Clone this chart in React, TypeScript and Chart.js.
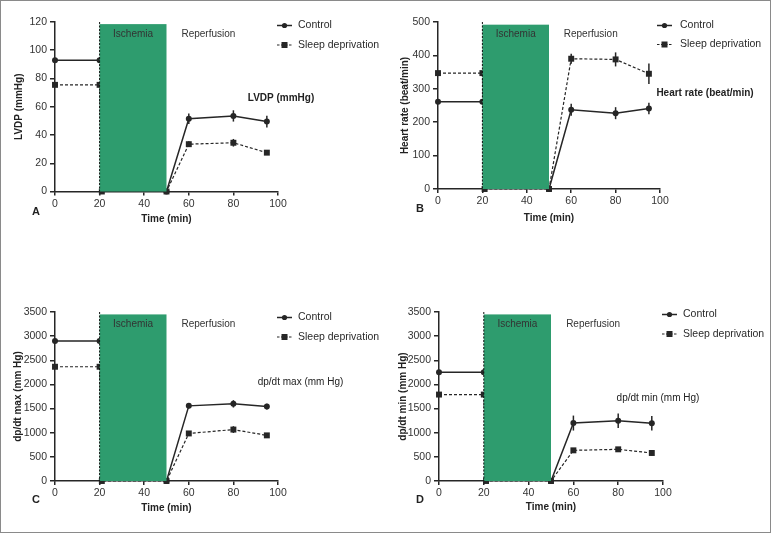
import React, { useEffect, useRef } from 'react';
import { Chart, registerables } from 'chart.js';

Chart.register(...registerables);

// ---------------- DATA ----------------
const timeControl = [0, 20, 50, 60, 80, 95];
const timeSleep = [0, 20, 21, 50, 60, 80, 95];

// Panel A: LVDP (mmHg)
const lvdpControl = [93, 93, 0, 51.5, 53.5, 49.5];
const lvdpControlErr = [0, 0, 0, 3.8, 4, 4.2];
const lvdpSleep = [75.5, 75.5, 0, 0, 33.5, 34.5, 27.5];
const lvdpSleepErr = [0, 0, 0, 0, 2, 2.7, 1];

// Panel B: Heart rate (beat/min)
const hrControl = [261, 261, 0, 237, 227, 241];
const hrControlErr = [0, 0, 0, 18, 18, 17];
const hrSleep = [347, 347, 0, 0, 390, 388, 345];
const hrSleepErr = [0, 0, 0, 0, 15, 21, 31];

// Panel C: dp/dt max (mm Hg)
const maxControl = [2900, 2900, 0, 1556, 1598, 1542];
const maxControlErr = [0, 0, 0, 50, 76, 60];
const maxSleep = [2366, 2366, 0, 0, 985, 1065, 945];
const maxSleepErr = [0, 0, 0, 0, 40, 70, 40];

// Panel D: dp/dt min (mm Hg)
const minControl = [2250, 2250, 0, 1200, 1250, 1195];
const minControlErr = [0, 0, 0, 155, 150, 150];
const minSleep = [1790, 1790, 0, 0, 635, 656, 580];
const minSleepErr = [0, 0, 0, 0, 30, 30, 50];

const xTickStep = 20;
const ischemiaStart = 20;
const ischemiaEnd = 50;
const reperfusionLabelAt = 68.8;
const legendLabels = ['Control', 'Sleep deprivation'];

// ---------------- STYLE ----------------
const FONT = "'Liberation Sans', Arial, sans-serif";
const FS = 10;
const INK = '#262626';
const GREEN = '#2e9c6e';
const W = 771;
const H = 533;

type Panel = {
  letter: string;
  yTitle: string;
  note: string;
  noteBold: boolean;
  yMax: number;
  yStep: number;
  greenTop: number;
  control: number[];
  controlErr: number[];
  sleep: number[];
  sleepErr: number[];
  L: number; R: number; T: number; B: number;
  yTitleX: number;
  xTitleY: number;
  noteX: number; noteY: number;
  letterX: number; letterY: number;
  legX1: number; legX2: number; legTextX: number; legY1: number; legY2: number;
};

const panels: Panel[] = [
  {
    letter: 'A', yTitle: 'LVDP (mmHg)', note: 'LVDP (mmHg)', noteBold: true,
    yMax: 120, yStep: 20, greenTop: 118.5,
    control: lvdpControl, controlErr: lvdpControlErr, sleep: lvdpSleep, sleepErr: lvdpSleepErr,
    L: 55, R: 278, T: 22, B: 191.5, yTitleX: 19, xTitleY: 219,
    noteX: 281, noteY: 98.5, letterX: 36, letterY: 211.5,
    legX1: 277, legX2: 292, legTextX: 298, legY1: 25.5, legY2: 45,
  },
  {
    letter: 'B', yTitle: 'Heart rate (beat/min)', note: 'Heart rate (beat/min)', noteBold: true,
    yMax: 500, yStep: 100, greenTop: 492,
    control: hrControl, controlErr: hrControlErr, sleep: hrSleep, sleepErr: hrSleepErr,
    L: 438, R: 660, T: 22, B: 189, yTitleX: 405, xTitleY: 218,
    noteX: 705, noteY: 93.5, letterX: 420, letterY: 209,
    legX1: 657, legX2: 672, legTextX: 680, legY1: 25.5, legY2: 44.5,
  },
  {
    letter: 'C', yTitle: 'dp/dt max (mm Hg)', note: 'dp/dt max (mm Hg)', noteBold: false,
    yMax: 3500, yStep: 500, greenTop: 3450,
    control: maxControl, controlErr: maxControlErr, sleep: maxSleep, sleepErr: maxSleepErr,
    L: 55, R: 278, T: 312, B: 481, yTitleX: 18, xTitleY: 508,
    noteX: 300.5, noteY: 382, letterX: 36, letterY: 499.5,
    legX1: 277, legX2: 292, legTextX: 298, legY1: 317.5, legY2: 337,
  },
  {
    letter: 'D', yTitle: 'dp/dt min (mm Hg)', note: 'dp/dt min (mm Hg)', noteBold: false,
    yMax: 3500, yStep: 500, greenTop: 3450,
    control: minControl, controlErr: minControlErr, sleep: minSleep, sleepErr: minSleepErr,
    L: 439, R: 663, T: 312, B: 481, yTitleX: 403, xTitleY: 507,
    noteX: 658, noteY: 398.5, letterX: 420, letterY: 499.5,
    legX1: 662, legX2: 677, legTextX: 683, legY1: 314.5, legY2: 334,
  },
];

function drawMarker(ctx: CanvasRenderingContext2D, x: number, y: number, kind: 'circle' | 'square', size: number) {
  ctx.fillStyle = INK;
  ctx.beginPath();
  if (kind === 'circle') {
    ctx.arc(x, y, size, 0, Math.PI * 2);
  } else {
    ctx.rect(x - size, y - size, size * 2, size * 2);
  }
  ctx.fill();
}

function makeDecor(p: Panel) {
  return {
    id: 'decor' + p.letter,
    afterDatasetsDraw(chart: any) {
      const { ctx, chartArea, scales } = chart;
      const xs = scales.x;
      const ys = scales.y;
      ctx.save();
      // error bars
      const errSets: [number[], number[], number[]][] = [
        [timeControl, p.control, p.controlErr],
        [timeSleep, p.sleep, p.sleepErr],
      ];
      ctx.strokeStyle = INK;
      ctx.lineWidth = 1.5;
      for (const [xsArr, vals, errs] of errSets) {
        for (let i = 0; i < vals.length; i++) {
          if (!errs[i]) continue;
          const px = xs.getPixelForValue(xsArr[i]);
          ctx.beginPath();
          ctx.moveTo(px, ys.getPixelForValue(vals[i] - errs[i]));
          ctx.lineTo(px, ys.getPixelForValue(vals[i] + errs[i]));
          ctx.stroke();
        }
      }
      // ischemia block
      const gx1 = xs.getPixelForValue(ischemiaStart);
      const gx2 = xs.getPixelForValue(ischemiaEnd);
      const gy1 = ys.getPixelForValue(p.greenTop);
      const gy2 = ys.getPixelForValue(0);
      ctx.fillStyle = GREEN;
      ctx.fillRect(gx1, gy1, gx2 - gx1, gy2 - gy1);
      // dotted line at ischemia start
      ctx.strokeStyle = '#111';
      ctx.lineWidth = 1;
      ctx.setLineDash([2, 1.5]);
      ctx.beginPath();
      ctx.moveTo(gx1, chartArea.top);
      ctx.lineTo(gx1, gy2);
      ctx.stroke();
      ctx.setLineDash([]);
      // labels
      ctx.font = `${FS}px ${FONT}`;
      ctx.fillStyle = '#333';
      ctx.textAlign = 'center';
      ctx.textBaseline = 'middle';
      ctx.fillText('Ischemia', (gx1 + gx2) / 2, chartArea.top + 12);
      ctx.fillText('Reperfusion', xs.getPixelForValue(reperfusionLabelAt), chartArea.top + 12);
      ctx.restore();
    },
    afterDraw(chart: any) {
      const { ctx } = chart;
      ctx.save();
      // legend
      const rows: [number, boolean, 'circle' | 'square'][] = [
        [p.legY1, false, 'circle'],
        [p.legY2, true, 'square'],
      ];
      rows.forEach(([y, dashed, kind], i) => {
        ctx.strokeStyle = INK;
        ctx.lineWidth = dashed ? 1.2 : 1.5;
        ctx.setLineDash(dashed ? [2.5, 1.5] : []);
        ctx.beginPath();
        ctx.moveTo(p.legX1, y);
        ctx.lineTo(p.legX2, y);
        ctx.stroke();
        ctx.setLineDash([]);
        drawMarker(ctx, (p.legX1 + p.legX2) / 2, y, kind, kind === 'circle' ? 2.6 : 3);
        ctx.font = `${FS + 0.5}px ${FONT}`;
        ctx.fillStyle = '#2a2a2a';
        ctx.textAlign = 'left';
        ctx.textBaseline = 'middle';
        ctx.fillText(legendLabels[i], p.legTextX, y);
      });
      // note
      ctx.font = `${p.noteBold ? 'bold ' : ''}${FS}px ${FONT}`;
      ctx.fillStyle = '#222';
      ctx.textAlign = 'center';
      ctx.textBaseline = 'middle';
      ctx.fillText(p.note, p.noteX, p.noteY);
      // panel letter
      ctx.font = `bold ${FS + 1}px ${FONT}`;
      ctx.fillText(p.letter, p.letterX, p.letterY);
      ctx.restore();
    },
  };
}

function PanelChart({ p }: { p: Panel }) {
  const ref = useRef<HTMLCanvasElement | null>(null);
  useEffect(() => {
    if (!ref.current) return;
    const titleOffset = (FS * 1.2) / 2;
    const padLeft = p.yTitleX - titleOffset;
    const yWidth = p.L - padLeft;
    const xHeight = p.xTitleY + titleOffset - p.B;
    const padBottom = H - (p.B + xHeight);
    const tickFont = { family: FONT, size: FS + 0.5 };
    const titleFont = { family: FONT, size: FS, weight: 'bold' as const };
    const chart = new Chart(ref.current, {
      type: 'line',
      data: {
        datasets: [
          {
            label: legendLabels[0],
            data: timeControl.map((x, i) => ({ x, y: p.control[i] })),
            borderColor: INK,
            backgroundColor: INK,
            borderWidth: 1.5,
            pointStyle: 'circle',
            pointRadius: 3,
            pointBorderWidth: 0,
            clip: false,
            tension: 0,
          },
          {
            label: legendLabels[1],
            data: timeSleep.map((x, i) => ({ x, y: p.sleep[i] })),
            borderColor: INK,
            backgroundColor: INK,
            borderWidth: 1.2,
            borderDash: [3, 2],
            pointStyle: 'rect',
            pointRadius: 4.2,
            pointBorderWidth: 0,
            clip: false,
            tension: 0,
          },
        ],
      },
      options: {
        animation: false,
        responsive: false,
        devicePixelRatio: 1,
        events: [],
        layout: { padding: { left: padLeft, right: W - p.R, top: p.T, bottom: padBottom } },
        plugins: { legend: { display: false }, tooltip: { enabled: false }, title: { display: false } },
        scales: {
          x: {
            type: 'linear',
            min: 0,
            max: 100,
            z: 1,
            ticks: { stepSize: xTickStep, color: '#333', font: tickFont, padding: 2, format: { useGrouping: false } },
            grid: { display: true, drawOnChartArea: false, drawTicks: true, tickLength: 4, color: INK, lineWidth: 1.5 },
            border: { display: true, color: INK, width: 1.5 },
            title: { display: true, text: 'Time (min)', color: '#222', font: titleFont, padding: 0 },
            afterFit: (s: any) => { s.height = xHeight; },
          },
          y: {
            type: 'linear',
            min: 0,
            max: p.yMax,
            z: 1,
            ticks: { stepSize: p.yStep, color: '#333', font: tickFont, padding: 3, format: { useGrouping: false } },
            grid: { display: true, drawOnChartArea: false, drawTicks: true, tickLength: 5, color: INK, lineWidth: 1.5 },
            border: { display: true, color: INK, width: 1.5 },
            title: { display: true, text: p.yTitle, color: '#222', font: titleFont, padding: 0 },
            afterFit: (s: any) => { s.width = yWidth; },
          },
        },
      },
      plugins: [makeDecor(p)],
    } as any);
    return () => chart.destroy();
  }, [p]);
  return (
    <canvas
      ref={ref}
      width={W}
      height={H}
      style={{ position: 'absolute', left: 0, top: 0, width: W, height: H }}
    />
  );
}

export default function App() {
  useEffect(() => {
    document.body.style.margin = '0';
  }, []);
  return (
    <div style={{ position: 'relative', width: W, height: H, background: '#fff', overflow: 'hidden' }}>
      {panels.map((p) => (
        <PanelChart key={p.letter} p={p} />
      ))}
      <div
        style={{
          position: 'absolute', left: 0, top: 0, width: W, height: H,
          boxSizing: 'border-box', border: '1px solid #8a8a8a', pointerEvents: 'none',
        }}
      />
    </div>
  );
}
